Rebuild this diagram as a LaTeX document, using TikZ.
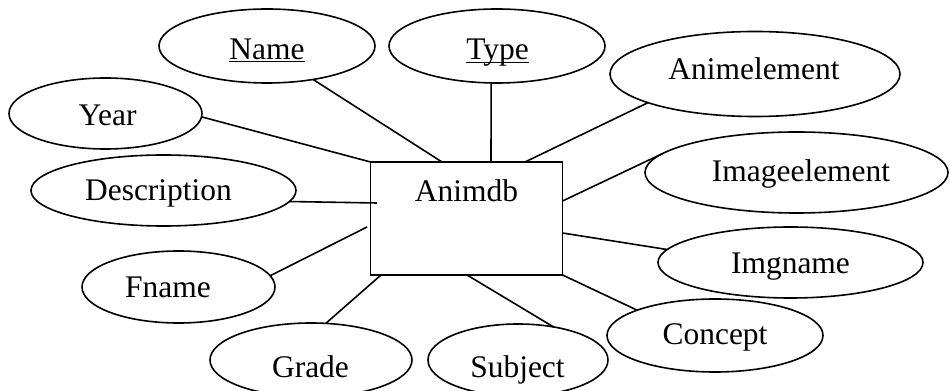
\documentclass[tikz,border=0pt]{standalone}
\usepackage{fontspec}
\setmainfont{Liberation Serif}
\usetikzlibrary{shapes.geometric,calc}
% key attribute: text with a thin underline just below the baseline
\newcommand\keyattr[1]{\setbox0=\hbox{#1}\hbox{\rlap{\rule[-2.2pt]{\wd0}{1pt}}\box0}}
\begin{document}
\begin{tikzpicture}[x=0.75pt,y=-0.75pt,line width=1.2pt,
  attr/.style={draw,ellipse,inner sep=0pt,outer sep=0pt},
  esize/.style 2 args={minimum width={#1*0.75pt},minimum height={#2*0.75pt}},
  entity/.style={draw,rectangle,inner sep=0pt,outer sep=0pt,
    minimum width=144pt,minimum height=84.75pt},
  lbl/.style={anchor=base,inner sep=0pt,font=\fontsize{23.6}{28}\selectfont}]
\useasboundingbox (0,0) rectangle (950,391);
\clip (0,0) rectangle (950,391);

% entity
\node[entity] (db) at (466.5,218.5) {};
\node[lbl] (dbtitle) at (466.5,201.7) {Animdb};

% attributes
\node[attr,esize={216}{74}] (aName) at (267,46) {};
\node[attr,esize={216}{74}] (aType) at (497,46) {};
\node[attr,esize={290}{85}] (aAnim) at (755,74) {};
\node[attr,esize={303}{81}] (aImage) at (796.5,172.5) {};
\node[attr,esize={193}{71}] (aYear) at (105.5,113.5) {};
\node[attr,esize={265}{71}] (aDesc) at (163.5,190.5) {};
\node[attr,esize={193}{72}] (aFname) at (178.5,287) {};
\node[attr,esize={202}{74}] (aGrade) at (311,360) {};
\node[attr,esize={180}{72}] (aSubject) at (518,360) {};
\node[attr,esize={265}{71}] (aImgname) at (790.5,262.5) {};
\node[attr,esize={216}{73}] (aConcept) at (715,335.5) {};

% attribute names
\node[lbl] (tName) at (267,59.5) {\keyattr{Name}};
\node[lbl] (tType) at (497.5,60) {\keyattr{Type}};
\node[lbl] (tAnim) at (754,80) {Animelement};
\node[lbl] (tImage) at (801,181.7) {Imageelement};
\node[lbl] (tYear) at (107.5,126) {Year};
\node[lbl] (tDesc) at (158.5,201) {Description};
\node[lbl] (tFname) at (168,297.3) {Fname};
\node[lbl] (tGrade) at (310.5,378) {Grade};
\node[lbl] (tSubject) at (517.5,378) {Subject};
\node[lbl] (tImgname) at (790.5,273.3) {Imgname};
\node[lbl] (tConcept) at (715,345) {Concept};

% connectors
\draw (aName.-36) -- ($(db.north west)+(71.5,0)$);
\draw (aType.-99) -- ($(db.north west)+(120.5,0)$);
\draw (aAnim.-165) -- ($(db.north west)+(154.5,0)$);
\draw (aImage.172) -- ($(db.north east)+(0,39)$);
\draw (aImgname.174.5) -- ($(db.north east)+(0,71)$);
\draw (aConcept.162.7) -- (db.south east);
\draw (aSubject.43.5) -- ($(db.south west)+(96.5,0)$);
\draw (aGrade.68) -- ($(db.south west)+(10.5,0)$);
\draw (aFname.7.7) -- ($(db.south west)+(-3.5,-48)$);
\draw (aDesc.-5.6) -- ($(db.north west)+(6.5,41)$);
\draw (aYear.-2.1) -- (db.north west);
\end{tikzpicture}
\end{document}
